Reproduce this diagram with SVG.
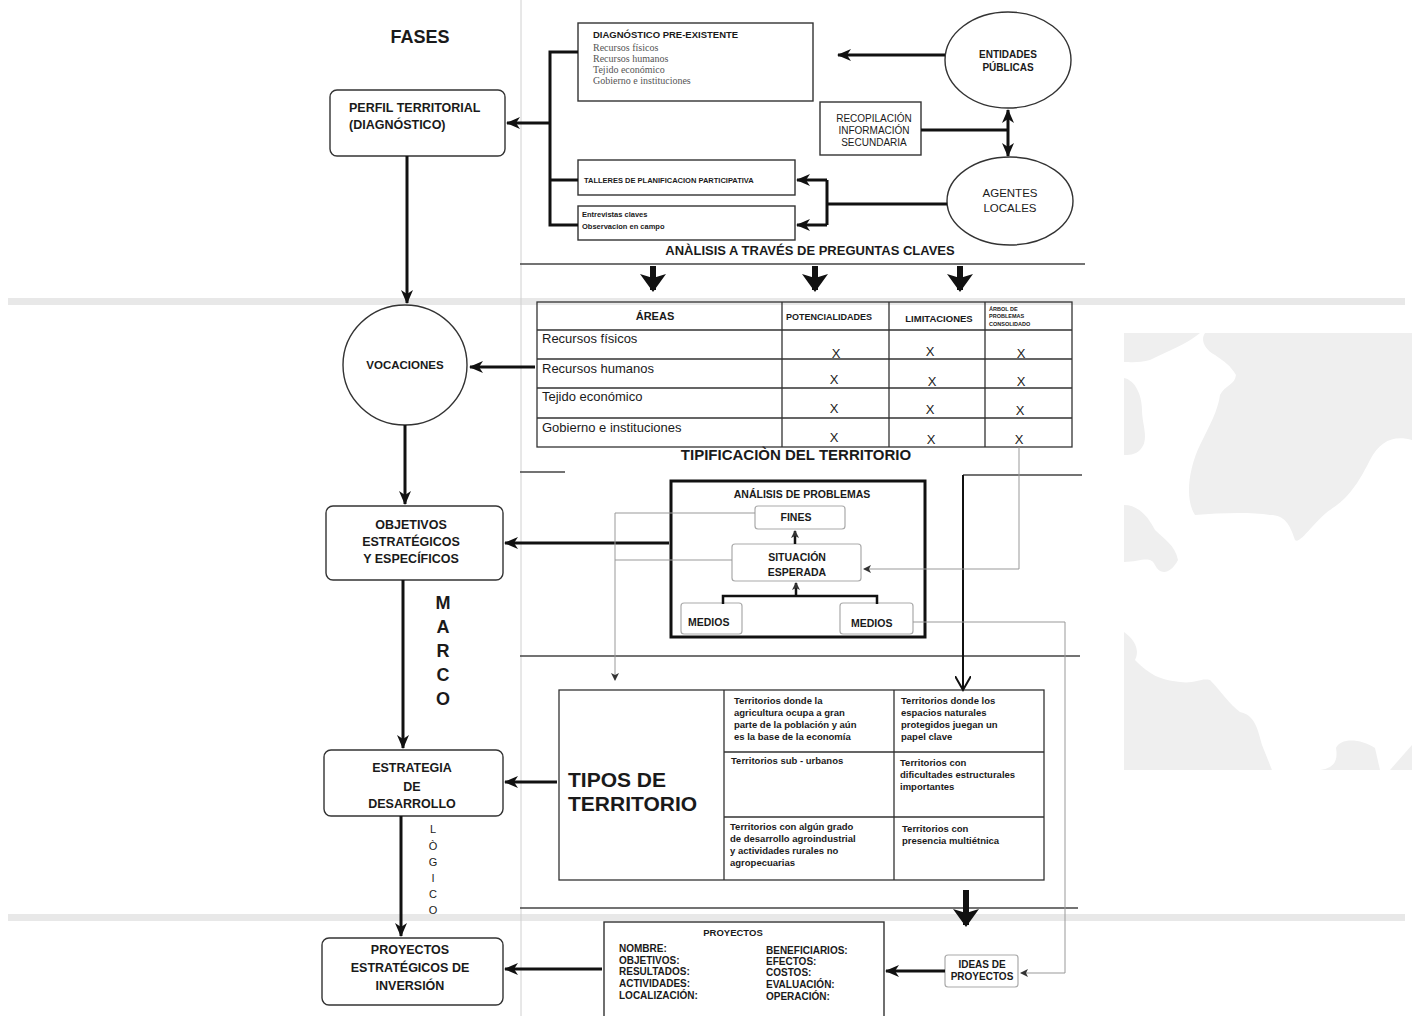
<svg xmlns="http://www.w3.org/2000/svg" width="1412" height="1016" viewBox="0 0 1412 1016">
<style>
text{font-family:"Liberation Sans",Arial,sans-serif;fill:#1a1a1a}
.b{font-weight:bold}
.box{fill:#fff;stroke:#333;stroke-width:1.4}
.lbox{fill:#fff;stroke:#aaa;stroke-width:1.2}
.th{fill:none;stroke:#111;stroke-width:3}
.fat{fill:none;stroke:#111;stroke-width:6}
.thin{fill:none;stroke:#999;stroke-width:1}
.rule{fill:none;stroke:#444;stroke-width:1.5}
.grid{fill:none;stroke:#333;stroke-width:1.3}
.ser{font-family:"Liberation Serif",serif;fill:#555}
.c{text-anchor:middle}
</style>
<defs>
<marker id="ah" markerWidth="14" markerHeight="12" refX="13" refY="6" orient="auto-start-reverse" markerUnits="userSpaceOnUse"><path d="M0,0 L14,6 L0,12 L4,6 Z" fill="#111"/></marker>
<marker id="big" markerWidth="22" markerHeight="26" refX="16" refY="13" orient="auto" markerUnits="userSpaceOnUse"><path d="M0,0 L18,13 L0,26 L4,13 Z" fill="#111"/></marker>
<marker id="sm" markerWidth="8" markerHeight="8" refX="7" refY="4" orient="auto" markerUnits="userSpaceOnUse"><path d="M0,0 L8,4 L0,8 L2,4 Z" fill="#333"/></marker>
<marker id="open" markerWidth="16" markerHeight="16" refX="14" refY="8" orient="auto" markerUnits="userSpaceOnUse"><path d="M0,0 L14,8 L0,16" fill="none" stroke="#111" stroke-width="2"/></marker>
</defs>
<rect width="1412" height="1016" fill="#fff"/>
<g id="background">
<rect x="8" y="298" width="1397" height="7" fill="#e8e8e8"/>
<rect x="8" y="914" width="1397" height="7" fill="#e8e8e8"/>
<path d="M1124,333 H1200 C1185,345 1170,350 1150,360 C1140,363 1130,362 1124,362 Z" fill="#efefef"/>
<path d="M1124,378 C1135,380 1142,395 1142,410 C1142,425 1150,440 1140,450 C1135,455 1128,455 1124,455 Z" fill="#efefef"/>
<path d="M1124,505 C1140,505 1150,520 1155,530 C1165,540 1175,545 1178,560 C1170,575 1160,575 1155,565 C1150,555 1140,562 1124,562 Z" fill="#efefef"/>
<path d="M1205,333 H1412 V440 C1395,435 1380,440 1370,460 C1355,490 1345,500 1330,510 C1315,520 1300,545 1295,540 C1290,525 1285,515 1270,515 C1250,512 1220,513 1195,515 C1185,500 1188,470 1200,445 C1210,425 1218,410 1220,395 C1225,385 1235,385 1236,375 C1230,365 1225,362 1215,355 C1205,350 1200,340 1205,333 Z" fill="#efefef"/>
<path d="M1124,632 C1135,640 1140,650 1135,660 C1150,675 1160,680 1180,682 C1195,684 1200,678 1210,680 C1220,690 1230,705 1240,712 C1255,715 1258,730 1262,745 C1268,760 1272,770 1272,770 H1124 Z" fill="#efefef"/>
<path d="M1320,770 C1335,768 1338,760 1336,748 C1340,738 1360,738 1375,748 L1380,770 Z M1390,770 L1412,745 V770 Z" fill="#efefef"/>
</g>
<g id="page-lines">
<line x1="521" y1="0" x2="521" y2="1016" stroke="#d0d0d0" stroke-width="1"/>
<line class="rule" x1="520" y1="264" x2="1085" y2="264"/>
<line class="rule" x1="520" y1="472" x2="565" y2="472"/>
<line class="rule" x1="963" y1="475" x2="1082" y2="475"/>
<line class="rule" x1="520" y1="656" x2="1080" y2="656"/>
<line class="rule" x1="520" y1="908" x2="1078" y2="908"/>
</g>
<g id="titles">
<text class="b c" x="420" y="43" font-size="18">FASES</text>
<text class="b c" x="810" y="255" font-size="13">ANÀLISIS A TRAVÉS DE PREGUNTAS CLAVES</text>
<text class="b c" x="796" y="460" font-size="15">TIPIFICACIÒN DEL TERRITORIO</text>
<text class="b c" x="443" y="609" font-size="18">M</text><text class="b c" x="443" y="633" font-size="18">A</text><text class="b c" x="443" y="657" font-size="18">R</text><text class="b c" x="443" y="681" font-size="18">C</text><text class="b c" x="443" y="705" font-size="18">O</text>
<text class="c" x="433" y="833" font-size="11">L</text><text class="c" x="433" y="850" font-size="11">Ò</text><text class="c" x="433" y="866" font-size="11">G</text><text class="c" x="433" y="882" font-size="11">I</text><text class="c" x="433" y="898" font-size="11">C</text><text class="c" x="433" y="914" font-size="11">O</text>
</g>
<g id="perfil">
<rect class="box" x="330" y="90" width="175" height="66" rx="7"/>
<text class="b" x="349" y="112" font-size="12.5">PERFIL TERRITORIAL</text>
<text class="b" x="349" y="129" font-size="12.5">(DIAGNÓSTICO)</text>
</g>
<g id="vocaciones">
<ellipse class="box" cx="405" cy="365" rx="62" ry="60"/>
<text class="b c" x="405" y="369" font-size="11.5">VOCACIONES</text>
</g>
<g id="objetivos">
<rect class="box" x="326" y="506" width="177" height="74" rx="7"/>
<text class="b c" x="411" y="529" font-size="12.5">OBJETIVOS</text>
<text class="b c" x="411" y="546" font-size="12.5">ESTRATÉGICOS</text>
<text class="b c" x="411" y="563" font-size="12.5">Y ESPECÍFICOS</text>
</g>
<g id="estrategia">
<rect class="box" x="324" y="750" width="179" height="66" rx="7"/>
<text class="b c" x="412" y="772" font-size="12.5">ESTRATEGIA</text>
<text class="b c" x="412" y="791" font-size="12.5">DE</text>
<text class="b c" x="412" y="808" font-size="12.5">DESARROLLO</text>
</g>
<g id="proyectos-estrategicos">
<rect class="box" x="322" y="938" width="181" height="67" rx="7"/>
<text class="b c" x="410" y="954" font-size="12.5">PROYECTOS</text>
<text class="b c" x="410" y="972" font-size="12.5">ESTRATÉGICOS DE</text>
<text class="b c" x="410" y="990" font-size="12.5">INVERSIÓN</text>
</g>
<g id="diagnostico">
<rect class="box" x="578" y="23" width="235" height="78"/>
<text class="b" x="593" y="38" font-size="9.5">DIAGNÓSTICO PRE-EXISTENTE</text>
<text class="ser" x="593" y="51" font-size="10">Recursos físicos</text>
<text class="ser" x="593" y="62" font-size="10">Recursos humanos</text>
<text class="ser" x="593" y="73" font-size="10">Tejido económico</text>
<text class="ser" x="593" y="84" font-size="10">Gobierno e instituciones</text>
</g>
<g id="entidades">
<ellipse class="box" cx="1008" cy="60" rx="63" ry="48"/>
<text class="b c" x="1008" y="58" font-size="10">ENTIDADES</text>
<text class="b c" x="1008" y="71" font-size="10">PÚBLICAS</text>
</g>
<g id="recopilacion">
<rect class="box" x="820" y="102" width="101" height="53"/>
<text class="c" x="874" y="122" font-size="10">RECOPILACIÓN</text>
<text class="c" x="874" y="134" font-size="10">INFORMACIÓN</text>
<text class="c" x="874" y="146" font-size="10">SECUNDARIA</text>
</g>
<g id="agentes">
<ellipse class="box" cx="1010" cy="201" rx="63" ry="44"/>
<text class="c" x="1010" y="197" font-size="11.5">AGENTES</text>
<text class="c" x="1010" y="212" font-size="11.5">LOCALES</text>
</g>
<g id="talleres">
<rect class="box" x="578" y="160" width="217" height="35"/>
<text class="b" x="584" y="183" font-size="7.5">TALLERES DE PLANIFICACION PARTICIPATIVA</text>
</g>
<g id="entrevistas">
<rect class="box" x="578" y="206" width="217" height="34"/>
<text class="b" x="582" y="217" font-size="7.5">Entrevistas claves</text>
<text class="b" x="582" y="229" font-size="7.5">Observacion en campo</text>
</g>
<g id="tabla-areas">
<rect class="grid" x="537" y="302" width="535" height="145" fill="#fff"/>
<path class="grid" d="M782,302 V447 M889,302 V447 M985,302 V447 M537,330 H1072 M537,359 H1072 M537,388 H1072 M537,418 H1072"/>
<text class="b c" x="655" y="320" font-size="11">ÁREAS</text>
<text class="b" x="786" y="320" font-size="9">POTENCIALIDADES</text>
<text class="b c" x="939" y="322" font-size="9.5">LIMITACIONES</text>
<text class="b" x="989" y="311" font-size="5.5">ÁRBOL DE</text>
<text class="b" x="989" y="318" font-size="5.5">PROBLEMAS</text>
<text class="b" x="989" y="326" font-size="5.5">CONSOLIDADO</text>
<text x="542" y="343" font-size="13">Recursos físicos</text>
<text x="542" y="373" font-size="13">Recursos humanos</text>
<text x="542" y="401" font-size="13">Tejido económico</text>
<text x="542" y="432" font-size="13">Gobierno e instituciones</text>
<text class="c" x="836" y="358" font-size="13">X</text><text class="c" x="930" y="356" font-size="13">X</text><text class="c" x="1021" y="358" font-size="13">X</text>
<text class="c" x="834" y="384" font-size="13">X</text><text class="c" x="932" y="386" font-size="13">X</text><text class="c" x="1021" y="386" font-size="13">X</text>
<text class="c" x="834" y="413" font-size="13">X</text><text class="c" x="930" y="414" font-size="13">X</text><text class="c" x="1020" y="415" font-size="13">X</text>
<text class="c" x="834" y="442" font-size="13">X</text><text class="c" x="931" y="444" font-size="13">X</text><text class="c" x="1019" y="444" font-size="13">X</text>
</g>
<g id="analisis-problemas">
<rect x="671" y="481" width="254" height="156" fill="#fff" stroke="#111" stroke-width="3"/>
<text class="b c" x="802" y="498" font-size="10.5">ANÁLISIS DE PROBLEMAS</text>
</g>
<g id="fines">
<rect class="lbox" x="755" y="506" width="90" height="23" rx="3"/>
<text class="b c" x="796" y="521" font-size="10.5">FINES</text>
</g>
<g id="situacion">
<rect class="lbox" x="732" y="544" width="129" height="37" rx="3"/>
<text class="b c" x="797" y="561" font-size="10.5">SITUACIÓN</text>
<text class="b c" x="797" y="576" font-size="10.5">ESPERADA</text>
</g>
<g id="medios-1">
<rect class="lbox" x="681" y="603" width="61" height="31" rx="3"/>
<text class="b" x="688" y="626" font-size="10.5">MEDIOS</text>
</g>
<g id="medios-2">
<rect class="lbox" x="840" y="603" width="73" height="31" rx="3"/>
<text class="b" x="851" y="627" font-size="10.5">MEDIOS</text>
</g>
<g id="tipos-territorio">
<rect class="grid" x="559" y="690" width="485" height="190" fill="#fff"/>
<path class="grid" d="M724,690 V880 M894,690 V880 M724,752 H1044 M724,817 H1044"/>
<text class="b" x="568" y="787" font-size="21">TIPOS DE</text>
<text class="b" x="568" y="811" font-size="21">TERRITORIO</text>
<text class="b" x="734" y="704" font-size="9.5">Territorios donde la</text>
<text class="b" x="734" y="716" font-size="9.5">agricultura ocupa a gran</text>
<text class="b" x="734" y="728" font-size="9.5">parte de la población y aún</text>
<text class="b" x="734" y="740" font-size="9.5">es la base de la economía</text>
<text class="b" x="901" y="704" font-size="9.5">Territorios donde los</text>
<text class="b" x="901" y="716" font-size="9.5">espacios naturales</text>
<text class="b" x="901" y="728" font-size="9.5">protegidos juegan un</text>
<text class="b" x="901" y="740" font-size="9.5">papel clave</text>
<text class="b" x="731" y="764" font-size="9.5">Territorios sub -  urbanos</text>
<text class="b" x="900" y="766" font-size="9.5">Territorios con</text>
<text class="b" x="900" y="778" font-size="9.5">dificultades estructurales</text>
<text class="b" x="900" y="790" font-size="9.5">importantes</text>
<text class="b" x="730" y="830" font-size="9.5">Territorios con algún grado</text>
<text class="b" x="730" y="842" font-size="9.5">de desarrollo agroindustrial</text>
<text class="b" x="730" y="854" font-size="9.5">y actividades rurales no</text>
<text class="b" x="730" y="866" font-size="9.5">agropecuarias</text>
<text class="b" x="902" y="832" font-size="9.5">Territorios con</text>
<text class="b" x="902" y="844" font-size="9.5">presencia multiétnica</text>
</g>
<g id="proyectos">
<rect class="box" x="604" y="922" width="280" height="98"/>
<text class="b c" x="733" y="936" font-size="9.5">PROYECTOS</text>
<text class="b" x="619" y="952" font-size="10">NOMBRE:</text>
<text class="b" x="619" y="964" font-size="10">OBJETIVOS:</text>
<text class="b" x="619" y="975" font-size="10">RESULTADOS:</text>
<text class="b" x="619" y="987" font-size="10">ACTIVIDADES:</text>
<text class="b" x="619" y="999" font-size="10">LOCALIZACIÓN:</text>
<text class="b" x="766" y="954" font-size="10">BENEFICIARIOS:</text>
<text class="b" x="766" y="965" font-size="10">EFECTOS:</text>
<text class="b" x="766" y="976" font-size="10">COSTOS:</text>
<text class="b" x="766" y="988" font-size="10">EVALUACIÓN:</text>
<text class="b" x="766" y="1000" font-size="10">OPERACIÓN:</text>
</g>
<g id="ideas">
<rect class="lbox" x="945" y="955" width="73" height="32" rx="3"/>
<text class="b c" x="982" y="968" font-size="10">IDEAS DE</text>
<text class="b c" x="982" y="980" font-size="10">PROYECTOS</text>
</g>
<g id="connectors">
<path class="th" d="M578,52 H550 V225 H578 M550,180 H578"/>
<path class="th" d="M550,123 H507" marker-end="url(#ah)"/>
<path class="th" d="M945,55 H838" marker-end="url(#ah)"/>
<path class="th" d="M921,130 H1008"/>
<path class="th" d="M1008,130 V110" marker-end="url(#ah)"/>
<path class="th" d="M1008,130 V156" marker-end="url(#ah)"/>
<path class="th" d="M947,204 H827 M827,180 V225"/>
<path class="th" d="M827,180 H797" marker-end="url(#ah)"/>
<path class="th" d="M827,225 H797" marker-end="url(#ah)"/>
<path class="th" d="M407,156 V303" marker-end="url(#ah)"/>
<path class="fat" d="M653,266 V290" marker-end="url(#big)"/>
<path class="fat" d="M815,266 V290" marker-end="url(#big)"/>
<path class="fat" d="M960,266 V290" marker-end="url(#big)"/>
<path class="th" d="M535,367 H470" marker-end="url(#ah)"/>
<path class="th" d="M405,425 V504" marker-end="url(#ah)"/>
<path class="th" d="M669,543 H505" marker-end="url(#ah)"/>
<path class="th" d="M403,580 V748" marker-end="url(#ah)"/>
<path class="th" d="M557,782 H505" marker-end="url(#ah)"/>
<path class="th" d="M401,816 V936" marker-end="url(#ah)"/>
<path class="th" d="M602,969 H505" marker-end="url(#ah)"/>
<path class="fat" d="M966,890 V925" marker-end="url(#big)"/>
<path class="th" d="M945,971 H886" marker-end="url(#ah)"/>
<path d="M963,475 V690" fill="none" stroke="#111" stroke-width="2" marker-end="url(#open)"/>
<path class="thin" d="M755,513 H615 V680" marker-end="url(#sm)"/>
<path class="thin" d="M732,560 H615"/>
<path class="thin" d="M1019,447 V569 H864" marker-end="url(#sm)"/>
<path class="thin" d="M913,622 H1065 V973 H1021" marker-end="url(#sm)"/>
<path fill="none" stroke="#111" stroke-width="2.5" d="M795,544 V531" marker-end="url(#sm)"/>
<path fill="none" stroke="#111" stroke-width="2.5" d="M723,604 V596 H877 V604"/>
<path fill="none" stroke="#111" stroke-width="2.5" d="M796,596 V583" marker-end="url(#sm)"/>
</g>
</svg>
